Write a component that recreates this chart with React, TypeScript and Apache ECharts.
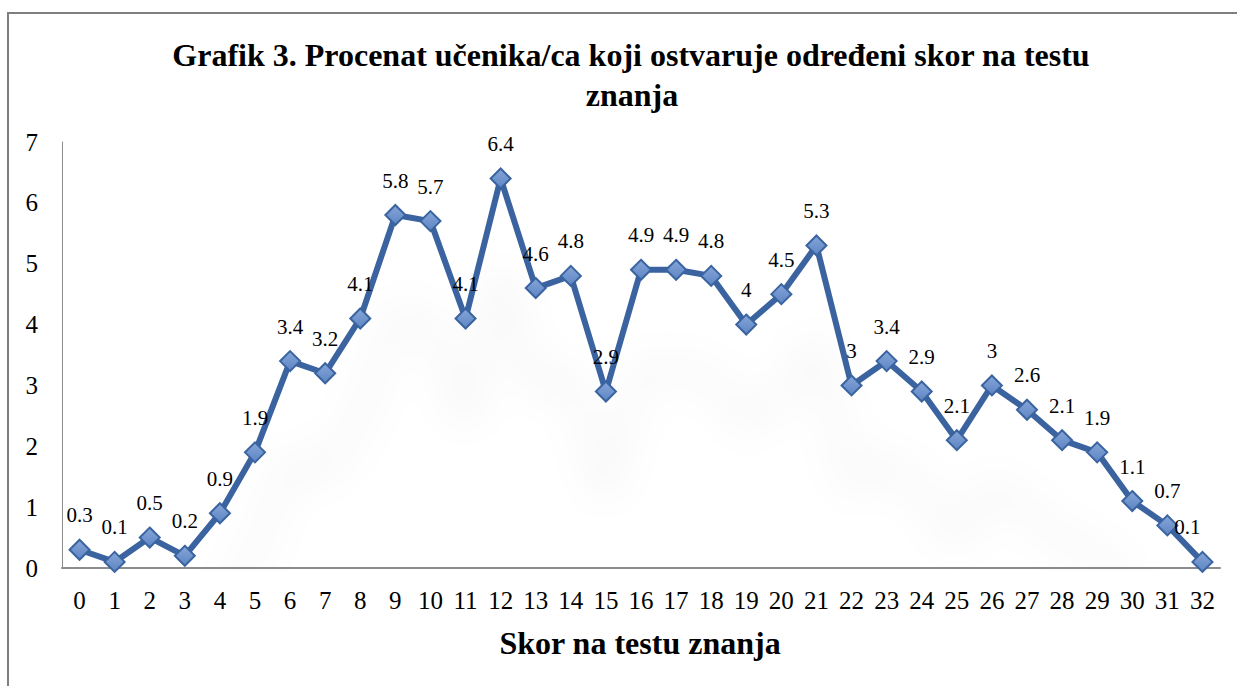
import React, { useEffect, useRef } from "react";
import * as echarts from "echarts";

const categories: string[] = Array.from({ length: 33 }, (_, i) => String(i));
const percentValues: number[] = [
  0.3, 0.1, 0.5, 0.2, 0.9, 1.9, 3.4, 3.2, 4.1, 5.8, 5.7, 4.1, 6.4, 4.6, 4.8, 2.9,
  4.9, 4.9, 4.8, 4, 4.5, 5.3, 3, 3.4, 2.9, 2.1, 3, 2.6, 2.1, 1.9, 1.1, 0.7, 0.1,
];
const titleLine1 = "Grafik 3. Procenat učenika/ca koji ostvaruje određeni skor na testu";
const titleLine2 = "znanja";
const xAxisTitle = "Skor na testu znanja";

const SERIF = "'Liberation Serif', 'Times New Roman', serif";

export default function App() {
  const ref = useRef<HTMLDivElement>(null);
  useEffect(() => {
    if (!ref.current) return;
    const chart = echarts.init(ref.current, undefined, { renderer: "svg" });
    const lastIdx = percentValues.length - 1;
    chart.setOption({
      animation: false,
      backgroundColor: "#ffffff",
      grid: { left: 62, right: 17, top: 142, bottom: 118, containLabel: false },
      graphic: [
        {
          type: "rect",
          silent: true,
          shape: { x: 8, y: 13, width: 1260, height: 720 },
          style: { fill: "none", stroke: "#7f7f7f", lineWidth: 2 },
        },
        {
          type: "text",
          x: 631,
          y: 55,
          style: {
            text: titleLine1,
            textAlign: "center",
            textVerticalAlign: "middle",
            font: `bold 32px ${SERIF}`,
            fill: "#000",
          },
        },
        {
          type: "text",
          x: 632,
          y: 95,
          style: {
            text: titleLine2,
            textAlign: "center",
            textVerticalAlign: "middle",
            font: `bold 32px ${SERIF}`,
            fill: "#000",
          },
        },
        {
          type: "text",
          x: 640,
          y: 643,
          style: {
            text: xAxisTitle,
            textAlign: "center",
            textVerticalAlign: "middle",
            font: `bold 32px ${SERIF}`,
            fill: "#000",
          },
        },
      ],
      xAxis: {
        type: "category",
        data: categories,
        boundaryGap: true,
        axisLine: { show: true, lineStyle: { color: "#8c8c8c", width: 2 } },
        axisTick: { show: false },
        axisLabel: {
          interval: 0,
          margin: 20,
          color: "#000",
          fontFamily: SERIF,
          fontSize: 25,
        },
        splitLine: { show: false },
      },
      yAxis: {
        type: "value",
        min: 0,
        max: 7,
        interval: 1,
        axisLine: { show: true, lineStyle: { color: "#8c8c8c", width: 1 } },
        axisTick: { show: false },
        splitLine: { show: false },
        axisLabel: {
          margin: 24,
          color: "#000",
          fontFamily: SERIF,
          fontSize: 25,
        },
      },
      series: [
        {
          type: "line",
          data: percentValues.map((v, i) =>
            i === lastIdx ? { value: v, label: { offset: [-15, 0] } } : v
          ),
          symbol: "diamond",
          symbolSize: 20,
          lineStyle: {
            color: "#3a64a0",
            width: 6,
            shadowColor: "rgba(0,0,0,0.1)",
            shadowBlur: 40,
            shadowOffsetY: 100,
          },
          itemStyle: {
            color: new echarts.graphic.LinearGradient(0, 0, 0, 1, [
              { offset: 0, color: "#86a6d9" },
              { offset: 1, color: "#5d84c2" },
            ]),
            borderColor: "#3a64a0",
            borderWidth: 2,
          },
          label: {
            show: true,
            position: "top",
            distance: 13,
            color: "#000",
            fontFamily: SERIF,
            fontSize: 21,
          },
          z: 3,
        },
      ],
    });
    return () => chart.dispose();
  }, []);
  return (
    <div
      ref={ref}
      style={{ position: "fixed", left: 0, top: 0, width: 1237, height: 686 }}
    />
  );
}
